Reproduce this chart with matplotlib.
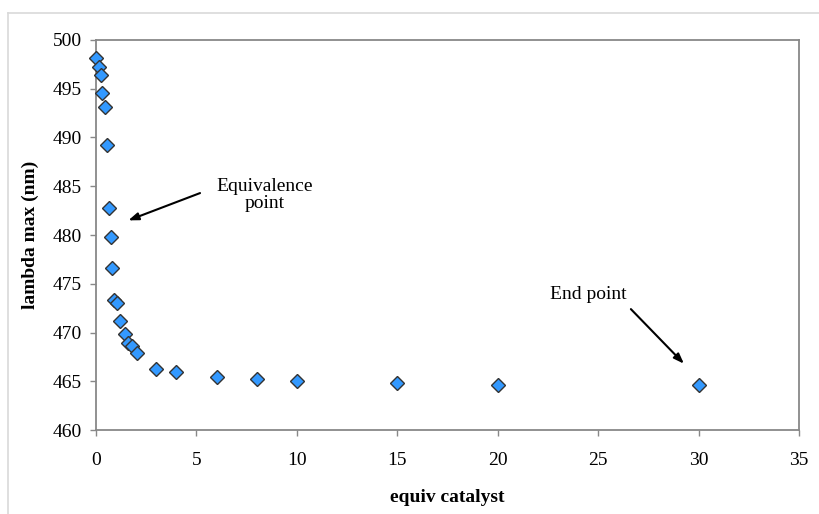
import matplotlib
matplotlib.use("Agg")
import matplotlib.pyplot as plt
from matplotlib.lines import Line2D

plt.rcParams['font.family'] = ['Liberation Serif', 'DejaVu Serif']

# titration data: equivalents of catalyst vs absorbance maximum
equiv = [0, 0.15, 0.23, 0.31, 0.43, 0.53, 0.65, 0.73, 0.81, 0.91, 1.03,
         1.21, 1.44, 1.58, 1.78, 2.04, 3, 4, 6, 8, 10, 15, 20, 30]
lambda_max = [498.2, 497.2, 496.4, 494.6, 493.1, 489.2, 482.8, 479.8, 476.6,
              473.3, 473.0, 471.2, 469.8, 468.9, 468.6, 467.9, 466.3, 465.9,
              465.4, 465.2, 465.0, 464.8, 464.6, 464.6]

x_ticks = [0, 5, 10, 15, 20, 25, 30, 35]
y_ticks = [460, 465, 470, 475, 480, 485, 490, 495, 500]

fig = plt.figure(figsize=(8.19, 5.14), dpi=100)
ax = fig.add_axes([0.1172, 0.1634, 0.8584, 0.7588])

# light outer frame (left and top edges only)
W, H = 819, 514
frame_c = '#d9d9d9'
fig.add_artist(Line2D([8 / W, 8 / W], [0, 1 - 13 / H], color=frame_c, lw=1.2,
                      transform=fig.transFigure))
fig.add_artist(Line2D([8 / W, 1], [1 - 13 / H, 1 - 13 / H], color=frame_c, lw=1.2,
                      transform=fig.transFigure))

ax.plot(equiv, lambda_max, linestyle='none', marker='D', markersize=7,
        markerfacecolor='#3399FF', markeredgecolor='#333333', markeredgewidth=1.0,
        clip_on=False, zorder=3)

ax.set_xlim(0, 35)
ax.set_ylim(460, 500)
ax.set_xticks(x_ticks)
ax.set_yticks(y_ticks)

for s in ax.spines.values():
    s.set_color('#888888')
    s.set_linewidth(1.3)

ax.tick_params(axis='both', colors='#888888', labelcolor='black', labelsize=14,
               direction='out', length=4, width=1.0)
ax.tick_params(axis='x', pad=12)
ax.tick_params(axis='y', pad=6)

ax.set_xlabel('equiv catalyst', fontsize=14, fontweight='bold', va='center')
ax.set_ylabel('lambda max (nm)', fontsize=14, fontweight='bold', va='center')
ax.xaxis.set_label_coords(0.5, -0.174)
ax.yaxis.set_label_coords(-0.094, 0.5)

arrow = dict(arrowstyle='-|>,head_length=0.6,head_width=0.22', color='black',
             lw=1.5, shrinkA=0, shrinkB=0)

ax.text(8.39, 484.1, 'Equivalence\npoint', fontsize=14, ha='center', va='center',
        linespacing=1.0)
ax.annotate('', xy=(1.61, 481.5), xytext=(5.18, 484.3), arrowprops=arrow)

ax.text(24.49, 473.85, 'End point', fontsize=14, ha='center', va='center')
ax.annotate('', xy=(29.27, 466.8), xytext=(26.63, 472.4), arrowprops=arrow)

fig.savefig('out.png', dpi=100)
